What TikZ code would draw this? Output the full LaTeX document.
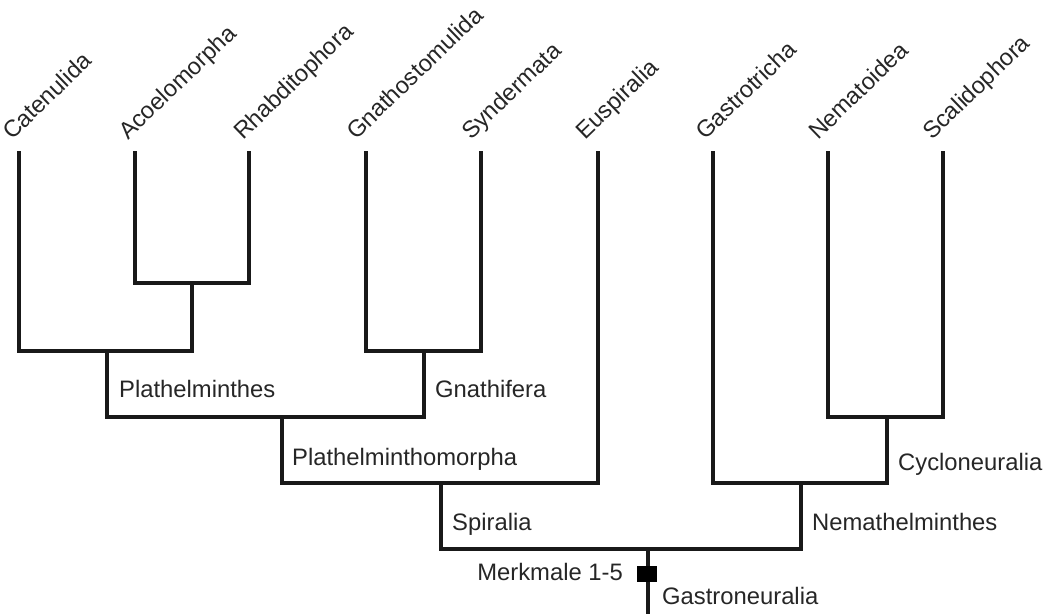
\documentclass[tikz,border=0pt]{standalone}
\usepackage{fontspec}
\setmainfont{Liberation Sans}
\begin{document}
\begin{tikzpicture}[x=1pt,y=-1pt,
  branch/.style={line width=3.2pt,line cap=rect,line join=miter,color=black!90},
  leaflabel/.style={anchor=base west,rotate=44,inner sep=0pt,font=\fontsize{23.6}{28}\selectfont,text=black!85},
  cladelabel/.style={anchor=base west,inner sep=0pt,font=\fontsize{23.8}{28}\selectfont,text=black!85},
  marker/.style={fill=black,inner sep=0pt,minimum width=20pt,minimum height=16pt}]
\useasboundingbox (0,0) rectangle (1049,613);
% leaf tops
\coordinate (cat) at (19,153);
\coordinate (aco) at (135,153);
\coordinate (rha) at (249,153);
\coordinate (gna) at (366,153);
\coordinate (syn) at (481,153);
\coordinate (eus) at (598,153);
\coordinate (gas) at (713,153);
\coordinate (nem) at (828,153);
\coordinate (sca) at (943,153);
% internal junctions
\coordinate (ar) at (192,283);
\coordinate (pla) at (107,351);
\coordinate (gnf) at (424,351);
\coordinate (plm) at (282,417);
\coordinate (spi) at (441,483);
\coordinate (cyc) at (887,417);
\coordinate (nmh) at (801,483);
\coordinate (root) at (648,549);
\coordinate (base) at (648,613);
% leaf labels
\node[leaflabel] (lcat) at (12,141) {Catenulida};
\node[leaflabel] (laco) at (128,141) {Acoelomorpha};
\node[leaflabel] (lrha) at (243,141) {Rhabditophora};
\node[leaflabel] (lgna) at (356,141) {Gnathostomulida};
\node[leaflabel] (lsyn) at (471,141) {Syndermata};
\node[leaflabel] (leus) at (585,141) {Euspiralia};
\node[leaflabel] (lgas) at (705,141) {Gastrotricha};
\node[leaflabel] (lnem) at (818,141) {Nematoidea};
\node[leaflabel] (lsca) at (932,141) {Scalidophora};
% tree
\draw[branch] (aco) |- (ar) -| (rha);
\draw[branch] (cat) |- (pla) -| (ar);
\draw[branch] (gna) |- (gnf) -| (syn);
\draw[branch] (pla) |- (plm) -| (gnf);
\draw[branch] (plm) |- (spi) -| (eus);
\draw[branch] (nem) |- (cyc) -| (sca);
\draw[branch] (gas) |- (nmh) -| (cyc);
\draw[branch] (spi) |- (root) -| (nmh);
\draw[branch] (root) -- (base);
\node[marker] (mk) at (647,574) {};
% clade labels
\node[cladelabel] (tpla) at (119,397) {Plathelminthes};
\node[cladelabel] (tgnf) at (435,397) {Gnathifera};
\node[cladelabel] (tplm) at (292,465) {Plathelminthomorpha};
\node[cladelabel] (tspi) at (452,530) {Spiralia};
\node[cladelabel] (tcyc) at (898,470) {Cycloneuralia};
\node[cladelabel] (tnmh) at (812,530) {Nemathelminthes};
\node[cladelabel,anchor=base east] (tmk) at (623,580) {Merkmale 1-5};
\node[cladelabel] (tgas) at (662,604) {Gastroneuralia};
\end{tikzpicture}
\end{document}
